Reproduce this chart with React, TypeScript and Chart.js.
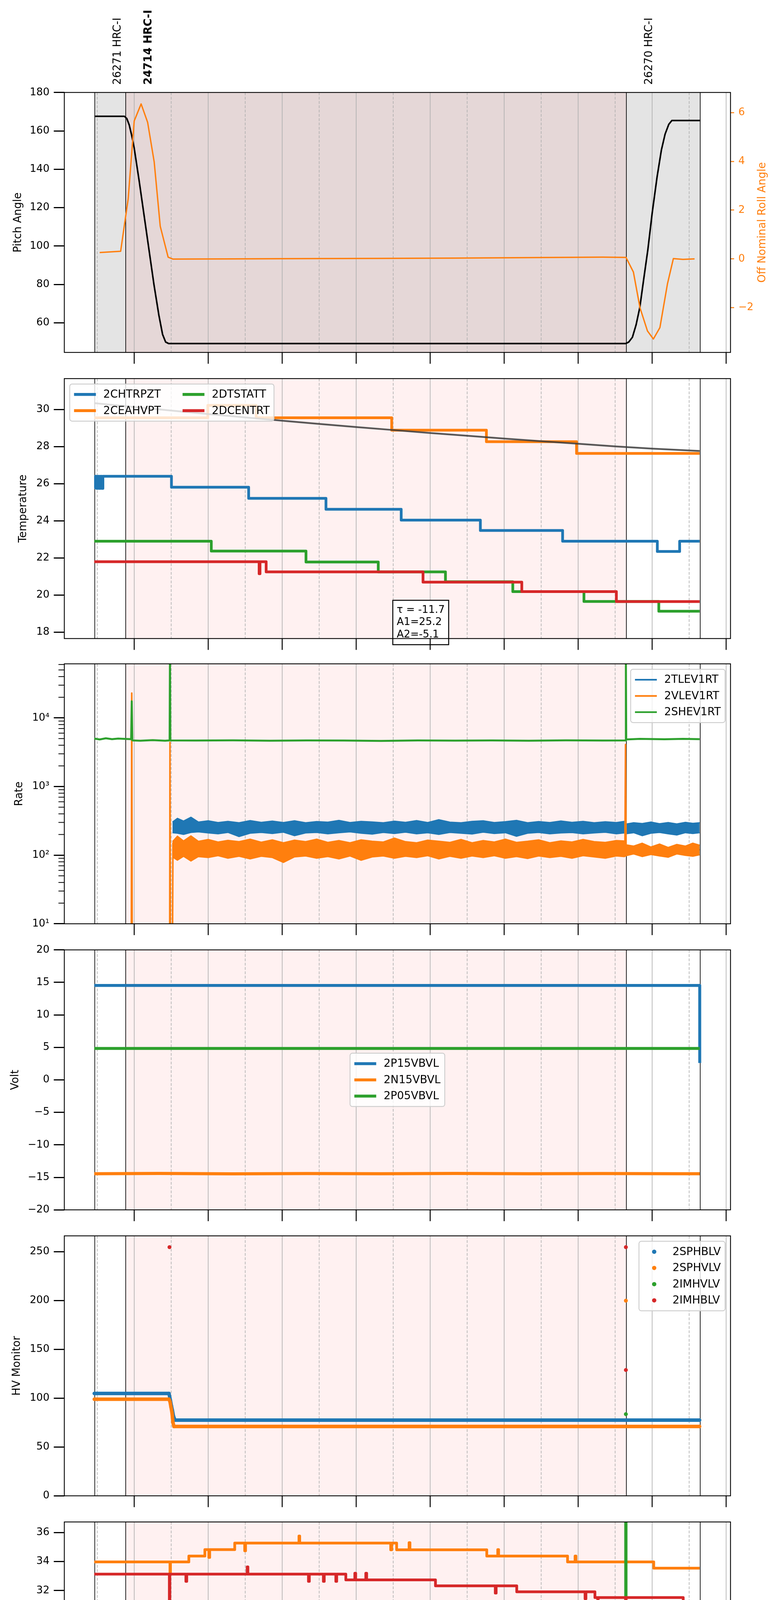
import React, { useEffect, useRef } from 'react';
import { Chart, registerables } from 'chart.js';

Chart.register(...registerables);

type Pair = [number, number];

const FONT = '"DejaVu Sans", "Liberation Sans", sans-serif';
const BLUE = '#1f77b4';
const ORANGE = '#ff7f0e';
const GREEN = '#2ca02c';
const RED = '#d62728';
const FIT_GRAY = 'rgba(60,60,60,0.85)';

// ---------- time axis (minutes after 2022-01-10 00:00) ----------
const X_MIN = 123.32;
const X_MAX = 663.55;
const HOUR_TICKS = [180, 240, 300, 360, 420, 480, 540, 600, 660];
const HOUR_LABELS = ['03h', '04h', '05h', '06h', '07h', '08h', '09h', '10h', '11h'];
const HALF_TICKS = [150, 210, 270, 330, 390, 450, 510, 570, 630];
const HALF_LABEL = '30';
const DATE_LABEL = '2022-01-10 (010)';

// ---------- observations ----------
const OBS_EDGES = [148.0, 173.1, 579.1, 639.0];
const OBS_IDS = ['26271 HRC-I', '24714 HRC-I', '26270 HRC-I'];
const OBS_ID_TIMES = [148.0, 173.1, 579.1];
const OBS_ID_BOLD = [false, true, false];
const GRAY_SPAN = [148.0, 639.0];
const PINK_SPAN = [173.1, 579.1];

// ---------- panel 1 : pitch / roll ----------
const PITCH: Pair[] = [[148.0,167.6],[172.0,167.6],[174.0,166.4],[176.0,163.0],[178.0,157.5],[180.0,151.0],[184.0,134.0],[188.0,116.0],[192.0,98.0],[196.0,80.0],[200.0,64.0],[203.0,54.0],[205.5,50.0],[208.0,49.2],[578.5,49.2],[581.0,50.0],[584.0,52.5],[587.0,59.0],[590.0,68.0],[593.0,82.0],[596.5,98.0],[600.0,117.0],[604.0,136.0],[607.5,150.0],[610.5,158.3],[613.5,163.4],[616.0,165.4],[639.0,165.4]];
const ROLL: Pair[] = [[152.0,0.26],[169.0,0.31],[175.1,2.46],[180.0,5.66],[185.6,6.36],[190.9,5.60],[196.2,3.98],[201.1,1.34],[207.5,0.07],[211.5,-0.01],[260.0,0.0],[320.0,0.01],[380.0,0.02],[440.0,0.03],[500.0,0.05],[560.0,0.07],[578.8,0.06],[584.8,-0.54],[590.1,-2.0],[596.2,-2.96],[601.0,-3.29],[606.3,-2.82],[612.4,-1.03],[617.2,0.01],[625.0,-0.02],[634.4,0.0]];

// ---------- panel 2 : temperature ----------
const CHTRPZT: Pair[] = [[147.6,25.78],[148.6,26.4],[149.6,25.75],[150.6,26.4],[151.6,25.75],[152.6,26.4],[153.6,25.75],[154.6,26.4],[155.6,26.4],[210.2,25.81],[272.8,25.21],[335.5,24.62],[396.5,24.04],[460.7,23.48],[527.4,22.9],[604.2,22.35],[622.3,22.9],[638.5,22.9]];
const CEAHVPT: Pair[] = [[147.6,29.55],[239.7,30.22],[278.9,29.55],[388.8,28.88],[465.6,28.26],[538.7,27.63],[638.5,27.63]];
const DTSTATT: Pair[] = [[147.6,22.9],[242.5,22.37],[319.3,21.78],[377.9,21.25],[432.4,20.72],[487.0,20.19],[544.7,19.66],[605.4,19.13],[638.5,19.13]];
const DCENTRT: Pair[] = [[147.6,21.8],[281.3,21.15],[282.0,21.8],[287.0,21.25],[414.2,20.7],[494.3,20.19],[571.0,19.65],[638.5,19.65]];
const FIT_CURVE: Pair[] = [[147.6,30.34],[180,30.13],[210,29.94],[240,29.75],[270,29.57],[300,29.39],[330,29.22],[360,29.05],[390,28.89],[420,28.73],[450,28.58],[480,28.43],[510,28.29],[540,28.15],[570,28.01],[600,27.89],[638.5,27.76]];
const FIT_TEXT = ['\u03c4 = -11.7', 'A1=25.2', 'A2=-5.1'];

// ---------- panel 3 : rates ----------
const BAND_T = [211,215,220,226,232,240,248,256,265,274,
  283,292,301,310,319,328,337,346,355,364,
  373,382,391,400,409,418,427,436,445,454,
  463,472,481,490,499,508,517,526,535,544,
  553,562,571,577.5,
  579,585,592,599,606,613,620,627,633,638.5];
const TLEV_HI = [305,345,315,358,305,318,300,312,298,320,
  302,315,300,318,298,310,304,322,300,312,
  306,298,314,302,320,300,330,304,298,312,
  318,300,309,322,298,310,300,316,302,312,
  298,308,300,312,
  285,298,290,305,288,300,286,302,292,298];
const TLEV_LO = [212,208,200,214,218,210,204,214,186,208,
  214,206,216,192,210,214,204,212,218,208,
  202,214,206,216,204,212,200,214,208,203,
  216,206,212,188,208,214,204,210,213,204,
  210,215,204,210,
  205,212,192,208,214,204,196,212,206,212];
const VLEV_HI = [158,190,162,192,160,170,156,165,158,172,
  155,168,152,166,158,172,154,164,152,168,
  160,156,178,158,152,166,160,154,170,152,
  164,156,172,154,160,168,152,162,156,170,
  158,154,164,162,
  142,136,150,132,146,130,144,136,150,140];
const VLEV_LO = [94,84,96,82,95,92,98,90,96,88,
  96,92,78,94,97,90,95,88,97,84,
  94,97,90,96,92,98,88,96,90,97,
  92,98,90,95,89,97,92,96,90,98,
  94,90,97,95,
  98,104,95,102,97,93,104,99,96,101];
const VLEV_SPIKES: Pair[] = [[147.6,1],[177.6,1],[178.0,23000],[178.4,1],[208.7,1],[209.0,4400],[209.4,1],[210.9,1],[211.4,150],[577.9,120],[578.4,4100],[578.9,110],[638.5,120]];
const SHEV: Pair[] = [[147.6,5000],[152,4850],[157,5050],[162,4900],[167,5000],[172,4950],[177.5,4900],[178.0,17500],[178.5,4700],[185,4650],[195,4750],[205,4650],[208.7,4700],[209.0,100000],[209.3,4700],[230,4680],[260,4720],[290,4650],[320,4700],[350,4680],[380,4620],[410,4700],[440,4660],[470,4700],[500,4650],[530,4720],[560,4680],[578.5,4700],[578.7,100000],[579.0,4850],[590,4950],[610,4880],[625,4950],[638.5,4900]];

// ---------- panel 4 : volts ----------
const P15VBVL: Pair[] = [[147.6,14.52],[638.4,14.52],[638.6,2.6]];
const N15VBVL: Pair[] = [[147.6,-14.44],[200,-14.40],[260,-14.46],[320,-14.42],[380,-14.44],[440,-14.40],[500,-14.45],[560,-14.42],[620,-14.44],[638.6,-14.44]];
const P05VBVL: Pair[] = [[147.6,4.83],[638.6,4.83]];

// ---------- panel 5 : HV monitor ----------
const SPHBLV: Pair[] = [[147.6,104.8],[208.2,104.8],[209.4,97.4],[210.2,91.9],[211.0,87.3],[211.8,81.7],[213.0,77.5],[638.5,77.5]];
const SPHVLV: Pair[] = [[147.6,98.9],[208.2,98.9],[209.0,96.5],[209.8,91.0],[210.6,85.4],[211.0,80.8],[211.4,75.3],[212.2,71.0],[638.5,71.0]];
const SPHVLV_OUTLIER: Pair[] = [[578.7,199.8]];
const IMHVLV: Pair[] = [[578.7,83.6]];
const IMHBLV: Pair[] = [[208.6,254.6],[578.7,254.6],[578.7,128.8]];

// ---------- panel 6 : detector temp ----------
const SPINATM: Pair[] = [[147.6,20.98],[202.1,20.26],[203.0,20.98],[206.5,20.26],[207.3,20.98],[210.0,20.26],[211.0,20.98],[212.0,20.26],[213.0,20.98],[214.0,20.26],[215.0,20.98],[216.0,20.26],[217.0,20.98],[218.0,20.26],[219.0,20.98],[220.0,20.26],[221.5,20.98],[353.6,20.30],[519.3,19.62],[638.5,19.62]];
const SPHVATM: Pair[] = [[147.6,33.97],[209.0,33.19],[209.4,33.97],[224.3,34.38],[237.3,34.82],[240.5,34.28],[241.2,34.82],[261.5,35.27],[269.6,34.74],[270.3,35.27],[313.6,35.76],[314.2,35.27],[388.0,34.81],[388.8,35.27],[392.8,34.81],[402.9,35.30],[403.6,34.81],[465.9,34.38],[474.8,34.82],[475.5,34.38],[531.4,33.97],[537.5,34.38],[538.2,33.97],[601.3,33.54],[638.5,33.54]];
const IMINATM: Pair[] = [[147.6,22.41],[240.5,21.63],[241.2,22.41],[250.6,21.70],[251.6,22.41],[252.6,21.70],[253.6,22.41],[254.6,21.70],[255.6,22.41],[256.6,21.70],[257.5,21.70],[390.8,20.98],[482.9,20.30],[575.9,19.62],[578.5,45.0],[578.9,19.62],[638.5,19.62]];
const IMHVATM: Pair[] = [[147.6,33.13],[208.5,0],[208.9,33.13],[221.9,32.63],[222.6,33.13],[271.6,33.63],[272.2,33.13],[321.3,32.63],[322.0,33.13],[333.4,32.63],[334.1,33.13],[343.5,32.63],[344.2,33.13],[351.6,32.73],[358.9,33.19],[359.6,32.73],[367.8,33.19],[368.5,32.73],[424.3,32.32],[472.8,31.82],[473.5,32.32],[490.2,31.91],[545.6,31.43],[546.3,31.91],[553.6,31.51],[555.7,31.43],[556.4,31.51],[578.5,0],[578.9,31.51],[625.2,31.11],[638.5,31.11]];

// ---------- panel 7 : FEA temp ----------
const FHTRMZT: Pair[] = [[147.6,25.81],[213.0,25.21],[251.4,24.64],[289.0,24.05],[326.6,23.49],[365.8,22.91],[406.2,22.37],[450.6,21.83],[497.9,21.27],[548.8,20.71],[638.5,20.71]];
const FRADPYT: Pair[] = [[147.6,21.27],[192.0,20.73],[206.2,20.20],[222.7,19.68],[245.8,19.17],[274.0,18.65],[305.2,18.14],[339.5,17.64],[375.9,17.15],[416.3,16.66],[458.7,16.17],[506.0,15.69],[556.9,15.20],[605.4,15.69],[629.6,16.17],[638.5,16.17]];
const FEPRATM: Pair[] = [[147.6,26.97],[208.4,24.68],[208.9,26.97],[245.3,26.18],[305.2,25.40],[364.5,24.64],[426.4,23.89],[495.1,23.14],[573.0,22.41],[578.4,40.0],[578.9,21.2],[579.4,22.41],[638.5,22.41]];
const FE00ATM: Pair[] = [[147.6,24.96],[204.1,24.62],[208.5,0],[208.9,24.62],[218.3,25.04],[218.9,24.62],[234.4,24.29],[236.5,23.28],[237.1,24.29],[262.7,23.96],[280.1,22.95],[280.7,23.96],[291.0,23.64],[317.3,23.31],[334.2,23.00],[334.8,23.31],[345.6,22.99],[352.4,21.97],[352.8,23.37],[353.4,22.99],[360.9,22.30],[361.5,22.99],[369.8,23.70],[370.4,22.99],[374.6,22.67],[381.9,22.30],[382.5,22.67],[388.0,22.95],[388.6,22.67],[405.4,22.35],[437.7,23.37],[438.3,22.03],[451.4,21.72],[452.0,22.03],[470.8,22.44],[471.4,21.71],[505.2,21.39],[522.5,22.11],[523.1,21.39],[532.6,21.79],[533.2,21.39],[542.7,21.08],[559.7,21.75],[560.3,21.08],[569.8,20.75],[570.4,21.08],[573.0,20.75],[573.6,21.08],[578.5,0],[578.9,21.08],[584.8,20.78],[638.5,20.78]];

// ---------- layout ----------
const PLOT_L = 164.7;
const PLOT_R = 1870.7;
const PAGE_W = 2000;
const PAGE_H = 5400;
const PANEL_TOPS = [236.7, 969.2, 1699.4, 2431.7, 3163.8, 3896.2, 4625.0];
const PANEL_H = 665.5;

const fmtNum = (v: number) => (v < 0 ? '\u2212' + Math.abs(v) : String(v));
const SUP = ['\u2070', '\u00b9', '\u00b2', '\u00b3', '\u2074', '\u2075'];
const fmtLog = (v: number) => '10' + SUP[Math.round(Math.log10(v))];

const pts = (arr: Pair[]) => arr.map(([x, y]) => ({ x, y }));
const zipPts = (xs: number[], ys: number[]) => xs.map((x, i) => ({ x, y: ys[i] }));

function ds(data: any[], color: string, width: number, extra: any = {}) {
  return {
    data,
    borderColor: color,
    backgroundColor: color,
    borderWidth: width,
    pointRadius: 0,
    pointBorderWidth: 0,
    fill: false,
    tension: 0,
    borderJoinStyle: 'round',
    clip: 0,
    ...extra,
  };
}

interface AxisCfg { type: string; min: number; max: number; ticks: number[]; fmt: (v: number) => string }
interface LegendCfg { loc: string; ncol: number; lw: number; marker?: boolean; items: { label: string; color: string }[] }
interface PanelCfg {
  key: string; idx: number; yTitle: string; yTitleX: number; y: AxisCfg;
  right?: AxisCfg & { title: string; color: string };
  datasets: any[]; legend?: LegendCfg; gray?: boolean; topLabels?: boolean; xLabels?: boolean;
  minorLog?: boolean; textBox?: { t: number; v: number; lines: string[] };
}

const PANELS: PanelCfg[] = [
  {
    key: 'p1', idx: 0, yTitle: 'Pitch Angle', yTitleX: 47, gray: true, topLabels: true,
    y: { type: 'linear', min: 44.6, max: 180, ticks: [60, 80, 100, 120, 140, 160, 180], fmt: fmtNum },
    right: { type: 'linear', min: -3.84, max: 6.83, ticks: [-2, 0, 2, 4, 6], fmt: fmtNum, title: 'Off Nominal Roll Angle', color: ORANGE },
    datasets: [
      ds(pts(PITCH), '#000000', 4, { yAxisID: 'y' }),
      ds(pts(ROLL), ORANGE, 3.5, { yAxisID: 'y1' }),
    ],
  },
  {
    key: 'p2', idx: 1, yTitle: 'Temperature', yTitleX: 60,
    y: { type: 'linear', min: 17.66, max: 31.66, ticks: [18, 20, 22, 24, 26, 28, 30], fmt: fmtNum },
    datasets: [
      ds(pts(CHTRPZT), BLUE, 7, { stepped: 'before' }),
      ds(pts(CEAHVPT), ORANGE, 7, { stepped: 'before' }),
      ds(pts(DTSTATT), GREEN, 7, { stepped: 'before' }),
      ds(pts(DCENTRT), RED, 7, { stepped: 'before' }),
      ds(pts(FIT_CURVE), FIT_GRAY, 4.5),
    ],
    legend: { loc: 'upper left', ncol: 2, lw: 7.5, items: [
      { label: '2CHTRPZT', color: BLUE }, { label: '2CEAHVPT', color: ORANGE },
      { label: '2DTSTATT', color: GREEN }, { label: '2DCENTRT', color: RED }] },
    textBox: { t: 389.7, v: 19.72, lines: FIT_TEXT },
  },
  {
    key: 'p3', idx: 2, yTitle: 'Rate', yTitleX: 50, minorLog: true,
    y: { type: 'logarithmic', min: 10, max: 61400, ticks: [10, 100, 1000, 10000], fmt: fmtLog },
    datasets: [
      ds(zipPts(BAND_T, TLEV_HI), BLUE, 2.5, { fill: '+1' }),
      ds(zipPts(BAND_T, TLEV_LO), BLUE, 2.5),
      ds(zipPts(BAND_T, VLEV_HI), ORANGE, 2.5, { fill: '+1' }),
      ds(zipPts(BAND_T, VLEV_LO), ORANGE, 2.5),
      ds(pts(VLEV_SPIKES), ORANGE, 4),
      ds(pts(SHEV), GREEN, 5),
    ],
    legend: { loc: 'upper right', ncol: 1, lw: 4.2, items: [
      { label: '2TLEV1RT', color: BLUE }, { label: '2VLEV1RT', color: ORANGE }, { label: '2SHEV1RT', color: GREEN }] },
  },
  {
    key: 'p4', idx: 3, yTitle: 'Volt', yTitleX: 40,
    y: { type: 'linear', min: -20, max: 20, ticks: [-20, -15, -10, -5, 0, 5, 10, 15, 20], fmt: fmtNum },
    datasets: [
      ds(pts(P15VBVL), BLUE, 7.5, { stepped: 'before' }),
      ds(pts(N15VBVL), ORANGE, 8),
      ds(pts(P05VBVL), GREEN, 7.5, { stepped: 'before' }),
    ],
    legend: { loc: 'center', ncol: 1, lw: 7.5, items: [
      { label: '2P15VBVL', color: BLUE }, { label: '2N15VBVL', color: ORANGE }, { label: '2P05VBVL', color: GREEN }] },
  },
  {
    key: 'p5', idx: 4, yTitle: 'HV Monitor', yTitleX: 44,
    y: { type: 'linear', min: 0, max: 266.2, ticks: [0, 50, 100, 150, 200, 250], fmt: fmtNum },
    datasets: [
      ds(pts(SPHBLV), BLUE, 9, { pointRadius: 4.5 }),
      ds(pts(SPHVLV), ORANGE, 9, { pointRadius: 4.5 }),
      ds(pts(SPHVLV_OUTLIER), ORANGE, 0, { showLine: false, pointRadius: 5 }),
      ds(pts(IMHVLV), GREEN, 0, { showLine: false, pointRadius: 5 }),
      ds(pts(IMHBLV), RED, 0, { showLine: false, pointRadius: 5 }),
    ],
    legend: { loc: 'upper right', ncol: 1, lw: 0, marker: true, items: [
      { label: '2SPHBLV', color: BLUE }, { label: '2SPHVLV', color: ORANGE },
      { label: '2IMHVLV', color: GREEN }, { label: '2IMHBLV', color: RED }] },
  },
  {
    key: 'p6', idx: 5, yTitle: 'Detector Temp', yTitleX: 62,
    y: { type: 'linear', min: 18.79, max: 36.73, ticks: [20, 22, 24, 26, 28, 30, 32, 34, 36], fmt: fmtNum },
    datasets: [
      ds(pts(SPINATM), BLUE, 7, { stepped: 'before' }),
      ds(pts(SPHVATM), ORANGE, 7, { stepped: 'before' }),
      ds(pts(IMINATM), GREEN, 7, { stepped: 'before' }),
      ds(pts(IMHVATM), RED, 7, { stepped: 'before' }),
    ],
    legend: { loc: 'center right', ncol: 1, lw: 7.5, items: [
      { label: '2SPINATM', color: BLUE }, { label: '2SPHVATM', color: ORANGE },
      { label: '2IMINATM', color: GREEN }, { label: '2IMHVATM', color: RED }] },
  },
  {
    key: 'p7', idx: 6, yTitle: 'FEA Temp', yTitleX: 62, xLabels: true,
    y: { type: 'linear', min: 14.22, max: 27.70, ticks: [16, 18, 20, 22, 24, 26], fmt: fmtNum },
    datasets: [
      ds(pts(FHTRMZT), BLUE, 7, { stepped: 'before' }),
      ds(pts(FRADPYT), ORANGE, 7, { stepped: 'before' }),
      ds(pts(FEPRATM), GREEN, 7, { stepped: 'before' }),
      ds(pts(FE00ATM), RED, 7, { stepped: 'before' }),
    ],
    legend: { loc: 'upper right', ncol: 1, lw: 7.5, items: [
      { label: '2FHTRMZT', color: BLUE }, { label: '2FRADPYT', color: ORANGE },
      { label: '2FEPRATM', color: GREEN }, { label: '2FE00ATM', color: RED }] },
  },
];

function canvasBounds(i: number) {
  const top = PANEL_TOPS[i];
  const y0 = i === 0 ? 0 : Math.round(top - 45);
  const y1 = i === PANELS.length - 1 ? PAGE_H : Math.round(top + PANEL_H + 45);
  return { y0, y1 };
}

function vline(ctx: any, x: number, a: number, b: number) {
  ctx.beginPath(); ctx.moveTo(x, a); ctx.lineTo(x, b); ctx.stroke();
}
function hline(ctx: any, y: number, a: number, b: number) {
  ctx.beginPath(); ctx.moveTo(a, y); ctx.lineTo(b, y); ctx.stroke();
}
function rotText(ctx: any, text: string, x: number, y: number, font: string, color: string, align = 'center') {
  ctx.save();
  ctx.translate(x, y);
  ctx.rotate(-Math.PI / 2);
  ctx.font = font;
  ctx.fillStyle = color;
  ctx.textAlign = align;
  ctx.textBaseline = 'middle';
  ctx.fillText(text, 0, 0);
  ctx.restore();
}
function roundRectPath(ctx: any, x: number, y: number, w: number, h: number, r: number) {
  ctx.beginPath();
  ctx.moveTo(x + r, y);
  ctx.arcTo(x + w, y, x + w, y + h, r);
  ctx.arcTo(x + w, y + h, x, y + h, r);
  ctx.arcTo(x, y + h, x, y, r);
  ctx.arcTo(x, y, x + w, y, r);
  ctx.closePath();
}

function drawLegend(ctx: any, a: any, lg: LegendCfg) {
  const fs = 27.8, rowH = 41.5, hl = 56, gap = 19, pad = 11, colSp = 55.6, inset = 13.9;
  ctx.save();
  ctx.font = `${fs}px ${FONT}`;
  const ncol = lg.ncol || 1;
  const nrow = Math.ceil(lg.items.length / ncol);
  const cols: { label: string; color: string }[][] = [];
  for (let c = 0; c < ncol; c++) cols.push(lg.items.slice(c * nrow, (c + 1) * nrow));
  const colW = cols.map((col) => hl + gap + Math.max(...col.map((it) => ctx.measureText(it.label).width)));
  const w = pad * 2 + colW.reduce((s, v) => s + v, 0) + colSp * (ncol - 1);
  const h = nrow * rowH + 12;
  let x0 = 0, y0 = 0;
  if (lg.loc === 'upper left') { x0 = a.left + inset; y0 = a.top + inset; }
  else if (lg.loc === 'upper right') { x0 = a.right - inset - w; y0 = a.top + inset; }
  else if (lg.loc === 'center right') { x0 = a.right - inset - w; y0 = (a.top + a.bottom) / 2 - h / 2; }
  else { x0 = (a.left + a.right) / 2 - w / 2; y0 = (a.top + a.bottom) / 2 - h / 2; }
  roundRectPath(ctx, x0, y0, w, h, 6);
  ctx.fillStyle = 'rgba(255,255,255,0.8)';
  ctx.fill();
  ctx.strokeStyle = '#cccccc';
  ctx.lineWidth = 2.2;
  ctx.stroke();
  let cx = x0 + pad;
  cols.forEach((col, c) => {
    col.forEach((it, r) => {
      const cy = y0 + 6 + rowH * (r + 0.5);
      if (lg.marker) {
        ctx.fillStyle = it.color;
        ctx.beginPath(); ctx.arc(cx + hl / 2, cy, 5.5, 0, Math.PI * 2); ctx.fill();
      } else {
        ctx.strokeStyle = it.color;
        ctx.lineWidth = lg.lw;
        ctx.lineCap = 'butt';
        hline(ctx, cy, cx, cx + hl);
      }
      ctx.fillStyle = '#000';
      ctx.textAlign = 'left';
      ctx.textBaseline = 'middle';
      ctx.fillText(it.label, cx + hl + gap, cy + 1);
    });
    cx += colW[c] + colSp;
  });
  ctx.restore();
}

function makeDecor(p: PanelCfg) {
  return {
    id: 'decor_' + p.key,
    beforeDatasetsDraw(chart: any) {
      const { ctx, chartArea: a, scales } = chart;
      const px = (t: number) => scales.x.getPixelForValue(t);
      ctx.save();
      ctx.beginPath();
      ctx.rect(a.left, a.top, a.right - a.left, a.bottom - a.top);
      ctx.clip();
      if (p.gray) {
        ctx.fillStyle = '#e4e4e4';
        ctx.fillRect(px(GRAY_SPAN[0]), a.top, px(GRAY_SPAN[1]) - px(GRAY_SPAN[0]), a.bottom - a.top);
      }
      ctx.fillStyle = 'rgba(255,0,0,0.055)';
      ctx.fillRect(px(PINK_SPAN[0]), a.top, px(PINK_SPAN[1]) - px(PINK_SPAN[0]), a.bottom - a.top);
      ctx.strokeStyle = '#b0b0b0';
      ctx.lineWidth = 1.7;
      HOUR_TICKS.forEach((t) => vline(ctx, px(t), a.top, a.bottom));
      ctx.setLineDash([7, 4]);
      HALF_TICKS.forEach((t) => vline(ctx, px(t), a.top, a.bottom));
      ctx.setLineDash([]);
      ctx.strokeStyle = '#000';
      ctx.lineWidth = 1.7;
      OBS_EDGES.forEach((t) => vline(ctx, px(t), a.top, a.bottom));
      ctx.restore();
    },
    afterDatasetsDraw(chart: any) {
      const { ctx, chartArea: a, scales } = chart;
      if (p.legend) drawLegend(ctx, a, p.legend);
      if (p.textBox) {
        const tb = p.textBox;
        const fs = 26.4, lh = 31.2, pad = 10;
        ctx.save();
        ctx.font = `${fs}px ${FONT}`;
        const w = Math.max(...tb.lines.map((l) => ctx.measureText(l).width)) + pad * 2;
        const h = tb.lines.length * lh + pad * 2;
        const x0 = scales.x.getPixelForValue(tb.t);
        const y0 = scales.y.getPixelForValue(tb.v);
        ctx.fillStyle = '#fff';
        ctx.fillRect(x0, y0, w, h);
        ctx.strokeStyle = '#000';
        ctx.lineWidth = 2.5;
        ctx.strokeRect(x0, y0, w, h);
        ctx.fillStyle = '#000';
        ctx.textAlign = 'left';
        ctx.textBaseline = 'middle';
        tb.lines.forEach((l, i) => ctx.fillText(l, x0 + pad, y0 + pad + lh * (i + 0.5)));
        ctx.restore();
      }
    },
    afterDraw(chart: any) {
      const { ctx, chartArea: a, scales } = chart;
      const px = (t: number) => scales.x.getPixelForValue(t);
      ctx.save();
      ctx.strokeStyle = '#000';
      ctx.lineWidth = 2.2;
      ctx.strokeRect(a.left, a.top, a.right - a.left, a.bottom - a.top);
      ctx.lineWidth = 2.5;
      HOUR_TICKS.forEach((t) => {
        const x = px(t);
        if (x >= a.left - 0.5 && x <= a.right + 0.5) vline(ctx, x, a.bottom, a.bottom + 29);
      });
      if (p.minorLog) {
        ctx.lineWidth = 2;
        const ys = scales.y;
        [10, 100, 1000, 10000].forEach((d) => {
          for (let m = 2; m <= 9; m++) {
            const v = d * m;
            if (v < p.y.max) hline(ctx, ys.getPixelForValue(v), a.left - 15, a.left);
          }
        });
      }
      if (p.xLabels) {
        ctx.fillStyle = '#000';
        ctx.textAlign = 'center';
        ctx.textBaseline = 'middle';
        ctx.font = `18px ${FONT}`;
        HALF_TICKS.forEach((t) => ctx.fillText(HALF_LABEL, px(t), a.bottom + 15));
        ctx.font = `26.5px ${FONT}`;
        HOUR_TICKS.forEach((t, i) => ctx.fillText(HOUR_LABELS[i], px(t), a.bottom + 50));
        ctx.font = `33.3px ${FONT}`;
        ctx.fillText(DATE_LABEL, (a.left + a.right) / 2, a.bottom + 86);
      }
      const midY = (a.top + a.bottom) / 2;
      rotText(ctx, p.yTitle, p.yTitleX, midY, `27.5px ${FONT}`, '#000');
      if (p.right) rotText(ctx, p.right.title, 1953.3, midY, `27.5px ${FONT}`, p.right.color);
      if (p.topLabels) {
        OBS_IDS.forEach((s, i) => {
          const font = `${OBS_ID_BOLD[i] ? 'bold ' : ''}27.5px ${FONT}`;
          rotText(ctx, s, px(OBS_ID_TIMES[i]) + 59, a.top - 19.7, font, '#000', 'left');
        });
      }
      ctx.restore();
    },
  };
}

function yAxis(ax: AxisCfg, position: string, width: number, color: string, tickLen: number, pad: number) {
  return {
    type: ax.type,
    position,
    min: ax.min,
    max: ax.max,
    afterBuildTicks: (s: any) => { s.ticks = ax.ticks.map((v) => ({ value: v })); },
    afterFit: (s: any) => { s.width = width; },
    grid: { display: true, drawOnChartArea: false, drawTicks: true, tickLength: tickLen, tickWidth: position === 'left' ? 3 : 2.5, tickColor: color },
    border: { display: false },
    ticks: {
      autoSkip: false,
      padding: pad,
      color,
      font: { family: FONT, size: 26.4 },
      callback: (v: any) => ax.fmt(Number(v)),
    },
  };
}

function buildConfig(p: PanelCfg) {
  const { y0, y1 } = canvasBounds(p.idx);
  const top = PANEL_TOPS[p.idx];
  const bottom = top + PANEL_H;
  const datasets = p.datasets.map((d, i) => ({ ...d, order: 100 - i }));
  const scales: any = {
    x: { type: 'linear', min: X_MIN, max: X_MAX, display: false },
    y: yAxis(p.y, 'left', PLOT_L, '#000', 27, 11),
  };
  if (p.right) scales.y1 = yAxis(p.right, 'right', PAGE_W - PLOT_R, p.right.color, 9.3, 10.7);
  return {
    type: 'line',
    data: { datasets },
    options: {
      animation: false,
      responsive: false,
      maintainAspectRatio: false,
      devicePixelRatio: 1,
      events: [],
      layout: { padding: { top: top - y0, bottom: y1 - bottom, left: 0, right: p.right ? 0 : PAGE_W - PLOT_R } },
      scales,
      plugins: { legend: { display: false }, tooltip: { enabled: false }, title: { display: false } },
    },
    plugins: [makeDecor(p)],
  };
}

function Panel({ p }: { p: PanelCfg }) {
  const ref = useRef<HTMLCanvasElement>(null);
  const { y0, y1 } = canvasBounds(p.idx);
  useEffect(() => {
    const chart = new Chart(ref.current as HTMLCanvasElement, buildConfig(p) as any);
    return () => chart.destroy();
  }, []);
  return (
    <canvas
      ref={ref}
      width={PAGE_W}
      height={y1 - y0}
      style={{ position: 'absolute', left: 0, top: y0, width: PAGE_W, height: y1 - y0, display: 'block' }}
    />
  );
}

export default function App() {
  useEffect(() => {
    document.body.style.margin = '0';
    document.documentElement.style.overflow = 'hidden';
  }, []);
  return (
    <div style={{ position: 'relative', width: PAGE_W, height: PAGE_H, background: '#fff', overflow: 'hidden' }}>
      {PANELS.map((p) => <Panel key={p.key} p={p} />)}
    </div>
  );
}
